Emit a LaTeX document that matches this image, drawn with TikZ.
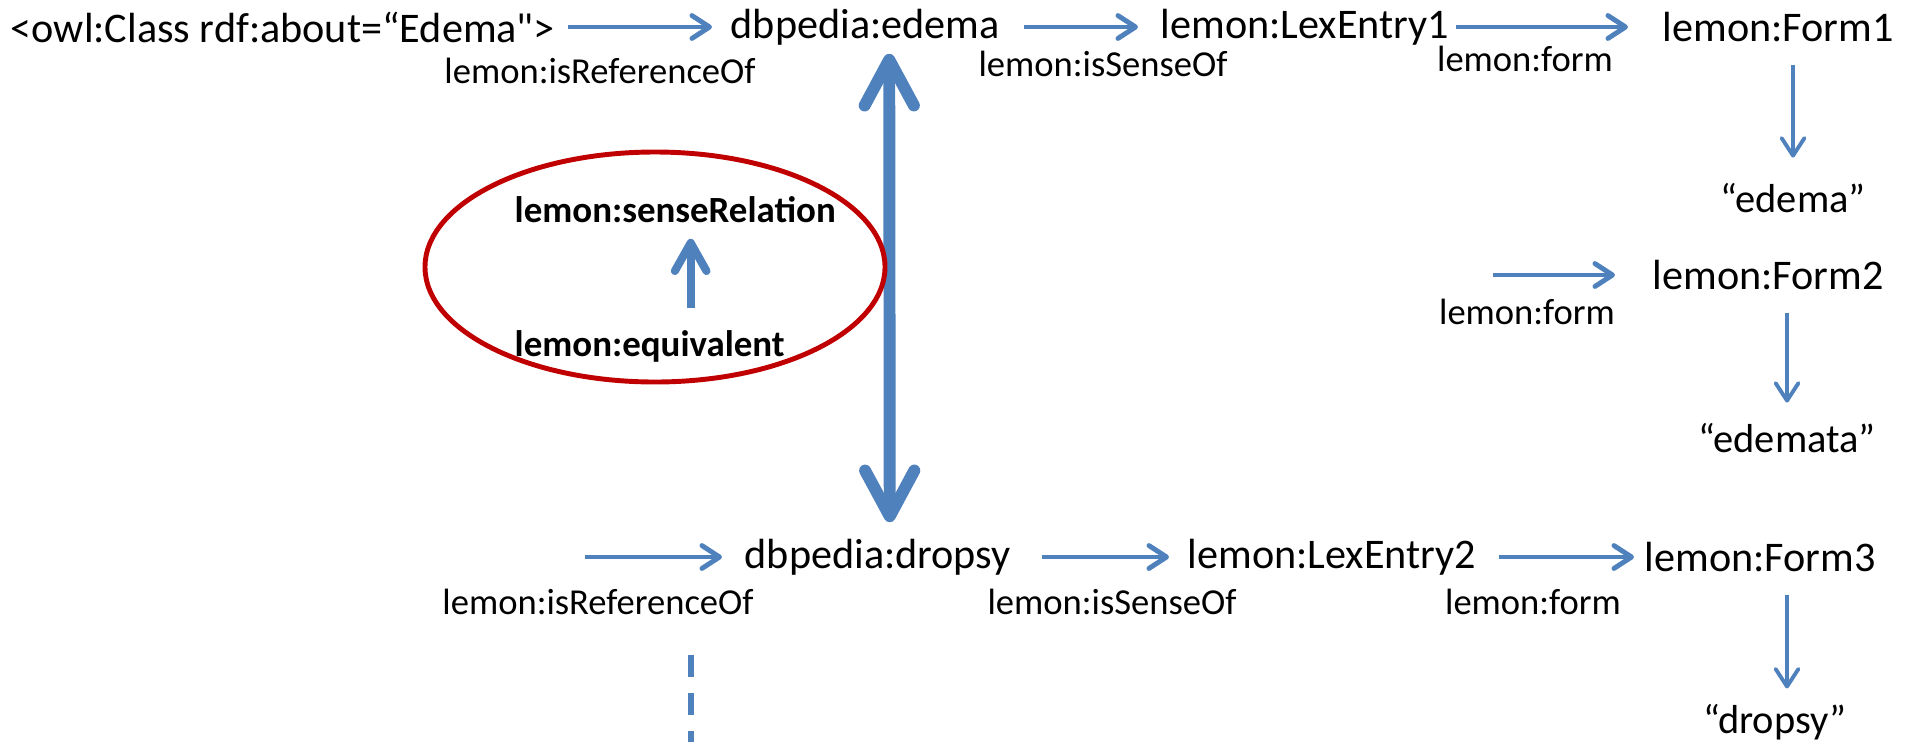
\documentclass[tikz,border=0pt]{standalone}
\usepackage{fontspec}
\setmainfont{Carlito}[Ligatures=TeXOff]
\usetikzlibrary{arrows.meta,calc,positioning}

\definecolor{linkblue}{HTML}{4F81BD}
\definecolor{ovalred}{HTML}{C00000}
\def\rowtop{27}
\def\rowbottom{557}

\tikzset{
  res/.style={inner sep=0pt, font=\fontsize{12}{14}\selectfont},
  prop/.style={inner sep=0pt, font=\fontsize{10.4}{12}\selectfont},
  literal/.style={inner sep=0pt, font=\fontsize{11.5}{13}\selectfont},
  relname/.style={inner sep=0pt, font=\fontsize{10.5}{12}\selectfont\bfseries},
  prop link/.style={linkblue, line width=1.4pt, -{Straight Barb[length=5pt,width=6.5pt,round]}},
  down link/.style={prop link, line width=1.1pt},
  up link/.style={linkblue, line width=2.3pt, -{Straight Barb[length=8pt,width=9pt,round]}},
  sense link/.style={linkblue, line width=3.4pt,
    {Straight Barb[length=13pt,width=14pt,round]}-{Straight Barb[length=13pt,width=14pt,round]}},
  relation oval/.style={ovalred, line width=1.4pt},
  etc line/.style={linkblue, line width=1.7pt, dash pattern=on 0.22cm off 0.16cm},
}

\begin{document}
\begin{tikzpicture}[x=0.01cm, y=-0.01cm]
  \useasboundingbox (0,0) rectangle (1919,742);

  % resources, top row
  \node[res, anchor=west] (owl) at (10,\rowtop) {<owl:Class rdf:about=“Edema">};
  \node[res, anchor=west] (edema) at (730,\rowtop) {dbpedia:edema};
  \node[res, anchor=west] (entryA) at (1160,\rowtop) {lemon:LexEntry1};
  \node[res, anchor=west] (formA) at (1662,\rowtop) {lemon:Form1};
  \node[literal] (litA) at (1793,198) {“edema”};
  \node[res, anchor=west] (formB) at (1652,275) {lemon:Form2};
  \node[literal] (litB) at (1787,438) {“edemata”};

  % resources, bottom row
  \node[res, anchor=west] (dropsy) at (744,\rowbottom) {dbpedia:dropsy};
  \node[res, anchor=west] (entryB) at (1187,\rowbottom) {lemon:LexEntry2};
  \node[res, anchor=west] (formC) at (1644,\rowbottom) {lemon:Form3};
  \node[literal] (litC) at (1775,722) {“dropsy”};

  \coordinate (inB) at (1493,275);
  \coordinate (inDropsy) at (585,\rowbottom);
  \coordinate (etcTop) at (691,655);
  \coordinate (etcEnd) at (691,742);

  % property names
  \node[prop] (refA) at (600,71) {lemon:isReferenceOf};
  \node[prop] (senseA) at (1103,64) {lemon:isSenseOf};
  \node[prop] (formPropA) at (1525,59) {lemon:form};
  \node[prop] (formPropB) at (1527,312) {lemon:form};
  \node[prop] (refB) at (598,602) {lemon:isReferenceOf};
  \node[prop] (senseB) at (1112,602) {lemon:isSenseOf};
  \node[prop] (formPropC) at (1533,602) {lemon:form};

  \node[relname, anchor=west] (senseRel) at (514,210) {lemon:senseRelation};
  \node[relname, anchor=west] (equiv) at (514,346) {lemon:equivalent};

  \draw[prop link, shorten <=0.12cm, shorten >=0.18cm] (owl) -- (edema);
  \draw[prop link, shorten <=0.24cm, shorten >=0.22cm] (edema) -- (entryA);
  \draw[prop link, shorten <=0.06cm, shorten >=0.34cm] (entryA) -- (formA);
  \draw[prop link, shorten >=0.37cm] (inB) -- (formB);
  \draw[down link, shorten <=0.22cm, shorten >=0.25cm] (formA.south -| litA) -- (litA);
  \draw[down link, shorten <=0.22cm, shorten >=0.20cm] (formB.south -| litB) -- (litB);

  \draw[prop link, shorten >=0.22cm] (inDropsy) -- (dropsy);
  \draw[prop link, shorten <=0.30cm, shorten >=0.18cm] (dropsy) -- (entryB);
  \draw[prop link, shorten <=0.22cm, shorten >=0.10cm] (entryB) -- (formC);
  \draw[down link, shorten <=0.22cm, shorten >=0.15cm]
    ($(formC.south -| litC)+(12,0)$) -- ($(litC.north)+(12,0)$);

  \draw[sense link, shorten <=0.08cm, shorten >=0.16cm]
    ($(edema.south)+(24,0)$) -- ($(dropsy.north)+(12,0)$);

  \coordinate (upFoot) at ($(equiv.north)+(41,0)$);
  \draw[up link, shorten <=0.21cm, shorten >=0.15cm] (upFoot) -- (upFoot |- senseRel.south);
  \draw[relation oval] (655,267) ellipse [x radius=230, y radius=115];

  \draw[etc line] (etcTop) -- (etcEnd);
\end{tikzpicture}
\end{document}
